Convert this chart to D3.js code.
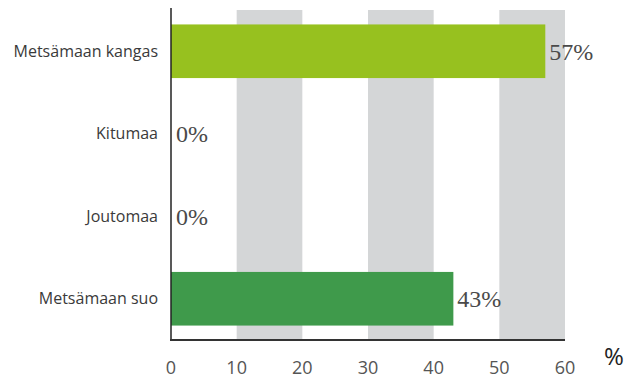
<!DOCTYPE html>
<html><head><meta charset="utf-8">
<script src="https://cdn.jsdelivr.net/npm/d3@7"></script>
<style>body{margin:0;background:#fff}</style>
</head><body>
<svg id="c" width="634" height="378"></svg>
<script>
const categories = ["Metsämaan kangas","Kitumaa","Joutomaa","Metsämaan suo"];
const values = [57, 0, 0, 43];
const barColors = ["#97c11f","#97c11f","#97c11f","#3f9a4b"];
const ticks = [0,10,20,30,40,50,60];
const bands = [[10,20],[30,40],[50,60]];

const svg = d3.select("#c");
const x = d3.scaleLinear().domain([0,60]).range([171,565]);
const y = d3.scaleBand().domain(categories).range([10,340]).paddingInner(0.35).paddingOuter(0.175);

svg.selectAll("rect.band").data(bands).enter().append("rect")
  .attr("x", d=>x(d[0])).attr("width", d=>x(d[1])-x(d[0]))
  .attr("y", 10).attr("height", 330).attr("fill", "#d4d6d7");

svg.selectAll("rect.bar").data(values).enter().append("rect")
  .attr("x", x(0)).attr("y", (d,i)=>y(categories[i]))
  .attr("width", d=>x(d)-x(0)).attr("height", y.bandwidth())
  .attr("fill", (d,i)=>barColors[i]);

svg.selectAll("text.val").data(values).enter().append("text")
  .attr("x", d=>x(d)+ (d>0?4:5)).attr("y", (d,i)=>y(categories[i])+y.bandwidth()/2)
  .attr("dy","0.35em")
  .attr("font-family","'Liberation Serif', serif").attr("font-size",24).attr("fill","#4a4a4a")
  .text(d=>d+"%");

svg.selectAll("text.cat").data(categories).enter().append("text")
  .attr("x", 158).attr("y", d=>y(d)+y.bandwidth()/2).attr("dy","0.35em")
  .attr("text-anchor","end")
  .attr("font-family","'Open Sans', sans-serif").attr("font-size",16).attr("fill","#3a3a3a")
  .text(d=>d);

// axes lines
svg.append("line").attr("x1",x(0)).attr("x2",x(0)).attr("y1",8).attr("y2",340)
  .attr("stroke","#222").attr("stroke-width",1.5);
svg.append("line").attr("x1",x(0)-1).attr("x2",x(60)).attr("y1",340).attr("y2",340)
  .attr("stroke","#333").attr("stroke-width",2);

svg.selectAll("text.tick").data(ticks).enter().append("text")
  .attr("x", d=>x(d)).attr("y", 368).attr("dy","0.35em").attr("text-anchor","middle")
  .attr("font-family","'Open Sans', sans-serif").attr("font-size",18).attr("fill","#555")
  .text(d=>d);

svg.append("text").attr("x",614).attr("y",357).attr("dy","0.35em").attr("text-anchor","middle")
  .attr("font-family","'Open Sans', sans-serif").attr("font-size",24).attr("fill","#222").text("%");
</script>
</body></html>
